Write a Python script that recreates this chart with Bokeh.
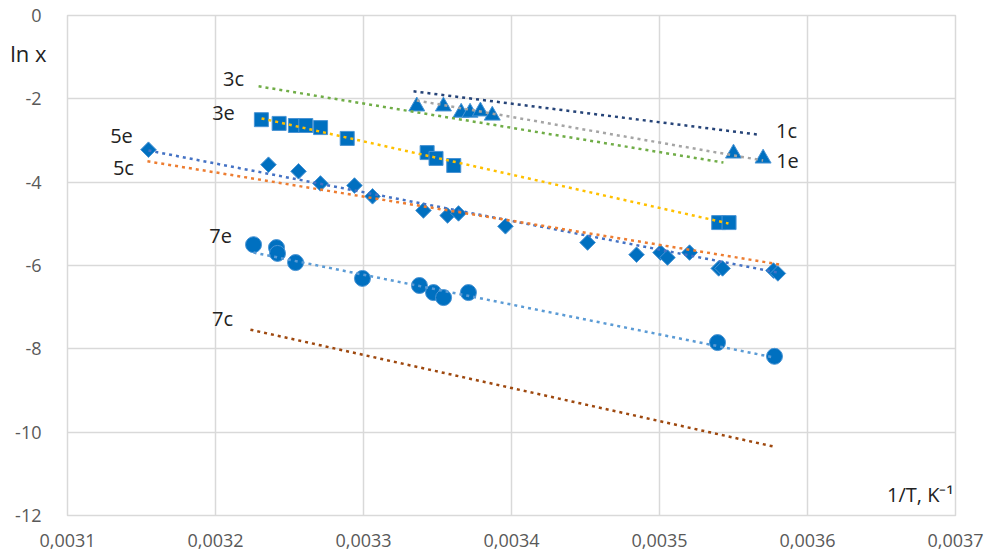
import math
from bokeh.plotting import figure
from bokeh.models import Label, FixedTicker, CustomJSTickFormatter, Range1d, LinearAxis
from bokeh.embed import file_html
from bokeh.resources import INLINE

# ---------------- data ----------------
x_ticks = [0.0031, 0.0032, 0.0033, 0.0034, 0.0035, 0.0036, 0.0037]
x_tick_labels = ["0,0031", "0,0032", "0,0033", "0,0034", "0,0035", "0,0036", "0,0037"]
y_ticks = [-12, -10, -8, -6, -4, -2, 0]
y_tick_labels = ["-12", "-10", "-8", "-6", "-4", "-2", "0"]
y_title = "ln x"
x_title = "1/T, K\u207b\u00b9"

# series 1e (triangles)
x_1e = [0.003336, 0.003354, 0.003366, 0.003372, 0.003379, 0.003387, 0.003550, 0.003570]
y_1e = [-2.18, -2.18, -2.33, -2.33, -2.30, -2.40, -3.31, -3.43]

# series 3e (squares)
x_3e = [0.003231, 0.003243, 0.003254, 0.003261, 0.003271, 0.003289,
        0.003343, 0.003349, 0.003361, 0.003540, 0.003547]
y_3e = [-2.50, -2.59, -2.64, -2.64, -2.69, -2.95, -3.29, -3.43, -3.60, -4.97, -4.97]

# series 5e (diamonds)
x_5e = [0.0031547, 0.0032358, 0.0032561, 0.0032709, 0.0032939, 0.0033061, 0.0033405,
        0.0033568, 0.0033642, 0.0033959, 0.0034514, 0.0034845, 0.0035007, 0.0035054,
        0.0035203, 0.0035400, 0.0035426, 0.0035770, 0.0035800]
y_5e = [-3.22, -3.58, -3.74, -4.03, -4.08, -4.34, -4.68, -4.80, -4.75, -5.06,
        -5.45, -5.74, -5.69, -5.81, -5.69, -6.07, -6.07, -6.12, -6.19]

# series 7e (circles)
x_7e = [0.0032257, 0.0032412, 0.0032419, 0.0032541, 0.0032993, 0.0033378,
        0.0033473, 0.0033541, 0.0033709, 0.0035392, 0.0035777]
y_7e = [-5.50, -5.57, -5.71, -5.93, -6.31, -6.48, -6.65, -6.77, -6.65, -7.85, -8.18]

# dotted lines (start / end)
line_1c_x = [0.0033338, 0.0035669]
line_1c_y = [-1.82, -2.86]
line_1e_x = [0.003336, 0.003570]
line_1e_y = [-2.04, -3.48]
line_3c_x = [0.0032291, 0.0035432]
line_3c_y = [-1.70, -3.53]
line_3e_x = [0.0032311, 0.0035466]
line_3e_y = [-2.47, -4.99]
line_5e_x = [0.0031547, 0.0035800]
line_5e_y = [-3.24, -6.17]
line_5c_x = [0.0031540, 0.0035820]
line_5c_y = [-3.50, -5.98]
line_7e_x = [0.0032257, 0.0035777]
line_7e_y = [-5.69, -8.21]
line_7c_x = [0.0032236, 0.0035764]
line_7c_y = [-7.54, -10.34]

# ---------------- figure ----------------
W, H = 986, 554
p = figure(width=W, height=H, output_backend="svg", toolbar_location=None,
           x_range=Range1d(0.0031, 0.0037), y_range=Range1d(-12, 0),
           min_border_left=67, min_border_right=W - 955, min_border_top=15,
           min_border_bottom=H - 515)

p.background_fill_color = "white"
p.border_fill_color = "white"
p.outline_line_color = "#d9d9d9"
p.outline_line_width = 1.5

JS_PICK = """
let best = 0;
for (let i = 0; i < vals.length; i++) {
  if (Math.abs(vals[i] - tick) < Math.abs(vals[best] - tick)) best = i;
}
return labs[best];
"""
p.xaxis.ticker = FixedTicker(ticks=x_ticks)
p.xaxis.formatter = CustomJSTickFormatter(args=dict(vals=x_ticks, labs=x_tick_labels), code=JS_PICK)
p.yaxis.ticker = FixedTicker(ticks=y_ticks)
p.yaxis.formatter = CustomJSTickFormatter(args=dict(vals=y_ticks, labs=y_tick_labels), code=JS_PICK)

for ax in (p.xaxis[0], p.yaxis[0]):
    ax.axis_line_color = None
    ax.major_tick_line_color = None
    ax.minor_tick_line_color = None
    ax.major_label_text_font = "Open Sans"
    ax.major_label_text_font_size = "18px"
    ax.major_label_text_color = "#595959"
p.xaxis.major_label_standoff = 12
p.yaxis.major_label_standoff = 20

# y-axis title at the top-left, beside the tick labels (Excel style):
# a second left axis with a single labelled position, pulled back over the first one
Y_TITLE_POS = -0.91
title_axis = LinearAxis(ticker=FixedTicker(ticks=[Y_TITLE_POS]),
                        formatter=CustomJSTickFormatter(args=dict(t=y_title), code="return t;"),
                        axis_line_color=None, major_tick_line_color=None,
                        minor_tick_line_color=None,
                        major_label_text_font="Open Sans", major_label_text_font_size="22px",
                        major_label_text_color="#222222", major_label_standoff=-40)
p.add_layout(title_axis, "left")

p.xgrid.grid_line_color = "#d9d9d9"
p.ygrid.grid_line_color = "#d9d9d9"
p.xgrid.grid_line_width = 1.5
p.ygrid.grid_line_width = 1.5

mk_fill = "#0070C0"
mk_line = "#4a94d4"

p.scatter(x_1e, y_1e, marker="triangle", size=16, fill_color=mk_fill, line_color=mk_line, line_width=1)
p.scatter(x_3e, y_3e, marker="square", size=14, fill_color=mk_fill, line_color=mk_line, line_width=1)
p.scatter(x_5e, y_5e, marker="square", angle=math.pi / 4, size=11, fill_color=mk_fill, line_color=mk_line, line_width=1)
p.scatter(x_7e, y_7e, marker="circle", size=16, fill_color=mk_fill, line_color=mk_line, line_width=1)

dash = "3 4"
lw = 2.5
p.line(line_1c_x, line_1c_y, line_color="#264478", line_width=lw, line_dash=dash)
p.line(line_1e_x, line_1e_y, line_color="#A5A5A5", line_width=lw, line_dash=dash)
p.line(line_3c_x, line_3c_y, line_color="#70AD47", line_width=lw, line_dash=dash)
p.line(line_3e_x, line_3e_y, line_color="#FFC000", line_width=lw, line_dash=dash)
p.line(line_5e_x, line_5e_y, line_color="#4472C4", line_width=lw, line_dash=dash)
p.line(line_5c_x, line_5c_y, line_color="#ED7D31", line_width=lw, line_dash=dash)
p.line(line_7e_x, line_7e_y, line_color="#5B9BD5", line_width=lw, line_dash=dash)
p.line(line_7c_x, line_7c_y, line_color="#9E480E", line_width=lw, line_dash=dash)

# text labels
def add_label(x, y, text, size="20px", align="center"):
    p.add_layout(Label(x=x, y=y, text=text,
                       text_font="Open Sans", text_font_size=size,
                       text_align=align, text_baseline="middle", text_color="#222222"))

add_label(0.0032122, -1.51, "3c")
add_label(0.0032054, -2.35, "3e")
add_label(0.0031365, -2.90, "5e")
add_label(0.0031378, -3.65, "5c")
add_label(0.0032034, -5.28, "7e")
add_label(0.0032047, -7.27, "7c")
add_label(0.0035858, -2.76, "1c")
add_label(0.0035865, -3.50, "1e")
add_label(0.0036986, -11.50, x_title, size="20px", align="right")

open("out.html", "w").write(file_html(p, INLINE))
